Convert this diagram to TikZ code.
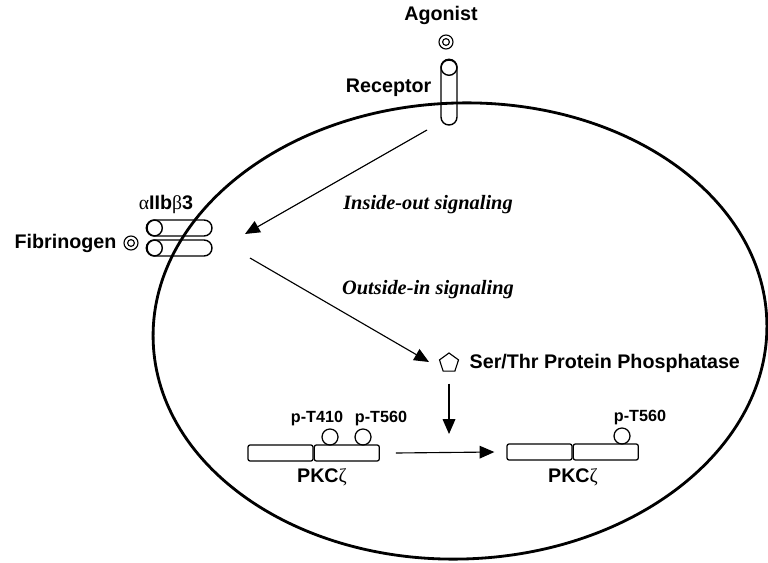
\documentclass[tikz,border=0pt]{standalone}
\usepackage{fontspec}
\setmainfont{Liberation Serif}
\setsansfont{Liberation Sans}
\usetikzlibrary{arrows.meta, positioning, shapes.geometric}
\tikzset{
  lab_b/.style = {inner sep=1pt, font=\sffamily\bfseries\fontsize{14}{16}\selectfont},
  lab_s/.style = {inner sep=1pt, font=\sffamily\bfseries\fontsize{11.5}{13}\selectfont},
  lab_i/.style = {inner sep=1pt, font=\rmfamily\bfseries\itshape\fontsize{14.5}{16}\selectfont},
  capsule/.style = {draw, rounded corners=0.2cm, line width=1pt, inner sep=0pt},% membrane protein
  cap_end/.style = {draw, circle, line width=1pt, inner sep=0pt, minimum size=0.4cm},
  dom_box/.style = {draw, rounded corners=1.5pt, line width=0.9pt, inner sep=0pt,
    minimum width=1.625cm, minimum height=0.4cm},% kinase domain
  phos/.style = {draw, circle, line width=0.9pt, inner sep=0pt, minimum size=0.4cm},
  ligand/.style = {draw, circle, line width=0.8pt, inner sep=0pt, minimum size=0.35cm},
  sig_arrow/.style = {line width=0.8pt, -{Triangle[length=10.5pt, width=9pt]}}
}
\newcommand{\grk}[1]{{\rmfamily\mdseries #1}}

\begin{document}
\begin{tikzpicture}[x=0.025cm, y=-0.025cm]
  \useasboundingbox (0,0) rectangle (768,563);
  % receptor and agonist
  \node (agonist) [lab_b] at (441,15) {Agonist};
  \node (ag) [ligand] at (446,42) {};
  \node [ligand, minimum size=0.17cm] at (ag) {};
  \node (rec) [capsule, minimum width=0.4cm, minimum height=1.625cm] at (449,92.5) {};
  \node [cap_end] at ([yshift=-0.2cm]rec.north) {};
  \node [lab_b, anchor=east] at (433,88) {Receptor};
  % integrin
  \node (int_a) [capsule, minimum width=1.625cm, minimum height=0.4cm] at (179.5,228) {};
  \node (int_b) [capsule, minimum width=1.625cm, minimum height=0.4cm] at (179.5,248) {};
  \node [cap_end] at ([xshift=0.2cm]int_a.west) {};
  \node [cap_end] at ([xshift=0.2cm]int_b.west) {};
  \node [lab_b] at (166,204) {\grk{α}IIb\grk{β}3};
  \node (fg) [ligand] at (131,243) {};
  \node [ligand, minimum size=0.17cm] at (fg) {};
  \node [lab_b, anchor=east] at (118,243) {Fibrinogen};
  % cell
  \draw[line width=2pt, rotate around={2:(460,331)}] (460,331) ellipse [x radius=307, y radius=228];
  % signaling
  \coordinate (io_start) at (427,130);
  \coordinate (io_tip) at (245,234);
  \coordinate (oi_start) at (250,258);
  \coordinate (oi_tip) at (429,362);
  \draw[sig_arrow] (io_start) -- (io_tip);
  \draw[sig_arrow] (oi_start) -- (oi_tip);
  \node [lab_i] at (428,205) {Inside-out signaling};
  \node [lab_i] at (428,290) {Outside-in signaling};
  \node (pp) [draw, regular polygon, regular polygon sides=5, line width=0.8pt,
    inner sep=0pt, minimum size=0.5cm] at (449,363) {};
  \node [lab_b, anchor=west] at (468,363) {Ser/Thr Protein Phosphatase};
  \coordinate (pp_tip) at (449,434);
  \draw[sig_arrow] ([yshift=-0.3cm]pp.south) -- (pp_tip);
  % PKC zeta before
  \node (pkc1a) [dom_box] at (280.5,453) {};
  \node (pkc1b) [dom_box, right=0pt of pkc1a] {};
  \node (t410) [phos] at (330,437) {};
  \node (t560a) [phos] at (363,437) {};
  \node [lab_s] at (317,419) {p-T410};
  \node [lab_s] at (381,419) {p-T560};
  \node [lab_b] at (322,477) {PKC\grk{ζ}};
  % PKC zeta after
  \node (pkc2a) [dom_box] at (539.5,452) {};
  \node (pkc2b) [dom_box, right=0pt of pkc2a] {};
  \node (t560b) [phos] at (622,436) {};
  \node [lab_s] at (640,418) {p-T560};
  \node [lab_b] at (573,477) {PKC\grk{ζ}};
  \draw[sig_arrow] ([xshift=0.4cm]pkc1b.east) -- ([xshift=-0.3cm]pkc2a.west);
\end{tikzpicture}
\end{document}
